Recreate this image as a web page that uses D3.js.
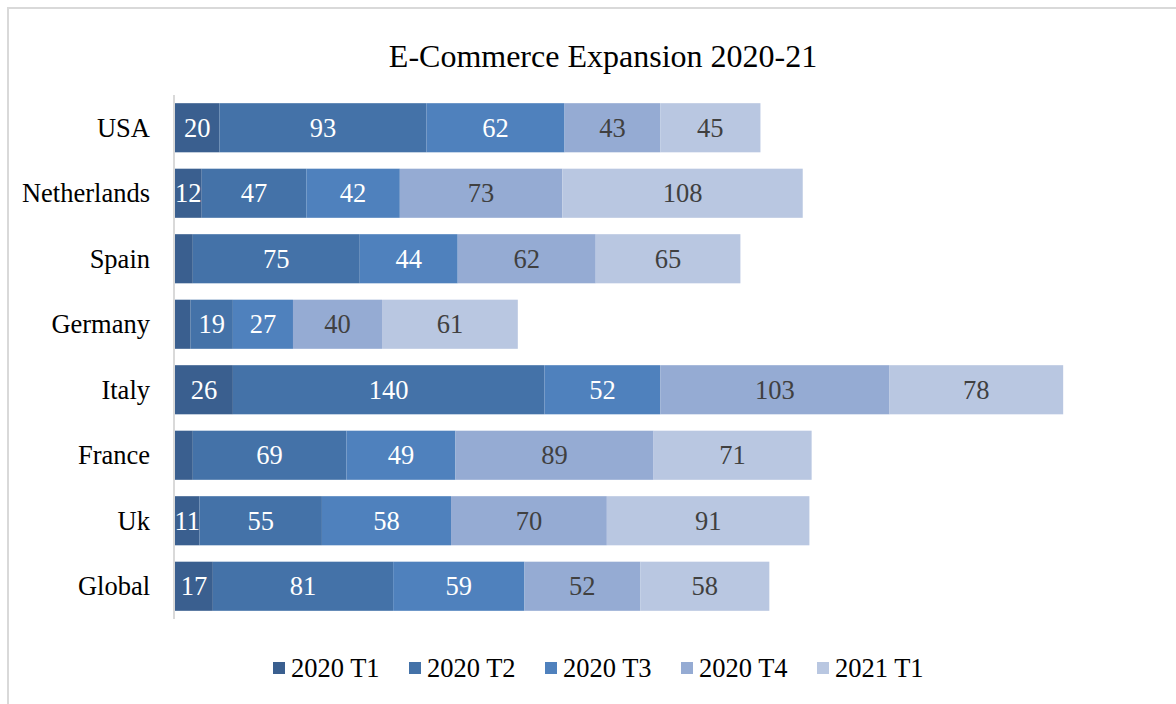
<!DOCTYPE html>
<html>
<head>
<meta charset="utf-8">
<script src="https://cdnjs.cloudflare.com/ajax/libs/d3/7.8.5/d3.min.js"></script>
<style>
body { margin: 0; background: #fff; }
text { font-family: "Liberation Serif", "Times New Roman", serif; }
</style>
</head>
<body>
<div id="chart"></div>
<script>
var countries = ["USA", "Netherlands", "Spain", "Germany", "Italy", "France", "Uk", "Global"];
var seriesNames = ["2020 T1", "2020 T2", "2020 T3", "2020 T4", "2021 T1"];
var t1_2020 = [20, 12, 8, 7, 26, 8, 11, 17];
var t2_2020 = [93, 47, 75, 19, 140, 69, 55, 81];
var t3_2020 = [62, 42, 44, 27, 52, 49, 58, 59];
var t4_2020 = [43, 73, 62, 40, 103, 89, 70, 52];
var t1_2021 = [45, 108, 65, 61, 78, 71, 91, 58];
var hiddenLabels = ["Spain|0", "France|0", "Germany|0"]; // too narrow, no label shown

var colors = ["#3a5f8f", "#4472a8", "#4f81bd", "#95abd3", "#b9c7e1"];
var labelColors = ["#fff", "#fff", "#fff", "#404040", "#404040"];
var fs = 26.5;

var width = 1176, height = 704;
var svg = d3.select("#chart").append("svg")
  .attr("width", width).attr("height", height);

// outer frame
svg.append("rect")
  .attr("x", 8).attr("y", 8)
  .attr("width", 1200).attr("height", 720)
  .attr("fill", "none").attr("stroke", "#d9d9d9").attr("stroke-width", 2);

svg.append("text")
  .attr("x", 603).attr("y", 67)
  .attr("text-anchor", "middle")
  .attr("font-size", 32)
  .attr("fill", "#000")
  .text("E-Commerce Expansion 2020-21");

var rows = countries.map(function(c, i) {
  return { country: c, vals: [t1_2020[i], t2_2020[i], t3_2020[i], t4_2020[i], t1_2021[i]] };
});

var x = d3.scaleLinear().domain([0, 100]).range([175, 175 + 222.6]);
var y = d3.scaleBand().domain(countries).range([95, 619]).paddingInner(0.25).paddingOuter(0.125);

var stack = d3.stack().keys(d3.range(5)).value(function(d, k) { return d.vals[k]; });
var layers = stack(rows);

var g = svg.selectAll("g.layer").data(layers).enter().append("g")
  .attr("class", "layer");

g.selectAll("rect").data(function(d) { return d; }).enter().append("rect")
  .attr("x", function(d) { return x(d[0]); })
  .attr("y", function(d) { return y(d.data.country); })
  .attr("width", function(d) { return x(d[1]) - x(d[0]); })
  .attr("height", y.bandwidth())
  .attr("fill", function(d) { return colors[this.parentNode.__data__.key]; });

g.selectAll("text").data(function(d) {
    return d.map(function(s) { return { s: s, key: d.key }; });
  }).enter()
  .filter(function(d) { return hiddenLabels.indexOf(d.s.data.country + "|" + d.key) < 0; })
  .append("text")
  .attr("x", function(d) { return (x(d.s[0]) + x(d.s[1])) / 2; })
  .attr("y", function(d) { return y(d.s.data.country) + y.bandwidth() / 2 + 9; })
  .attr("text-anchor", "middle")
  .attr("font-size", fs)
  .attr("fill", function(d) { return labelColors[d.key]; })
  .text(function(d) { return d.s[1] - d.s[0]; });

// category axis
svg.append("line")
  .attr("x1", 174).attr("x2", 174)
  .attr("y1", 95).attr("y2", 619)
  .attr("stroke", "#d9d9d9").attr("stroke-width", 2);

svg.selectAll("text.cat").data(countries).enter().append("text")
  .attr("class", "cat")
  .attr("x", 150)
  .attr("y", function(d) { return y(d) + y.bandwidth() / 2 + 9; })
  .attr("text-anchor", "end")
  .attr("font-size", fs)
  .attr("fill", "#000")
  .text(function(d) { return d; });

// legend
var leg = svg.selectAll("g.leg").data(seriesNames).enter().append("g")
  .attr("class", "leg")
  .attr("transform", function(d, i) { return "translate(" + (273 + i * 136) + ",662)"; });
leg.append("rect").attr("width", 12).attr("height", 12)
  .attr("fill", function(d, i) { return colors[i]; });
leg.append("text").attr("x", 18).attr("y", 15)
  .attr("font-size", fs).attr("fill", "#000")
  .text(function(d) { return d; });
</script>
</body>
</html>
